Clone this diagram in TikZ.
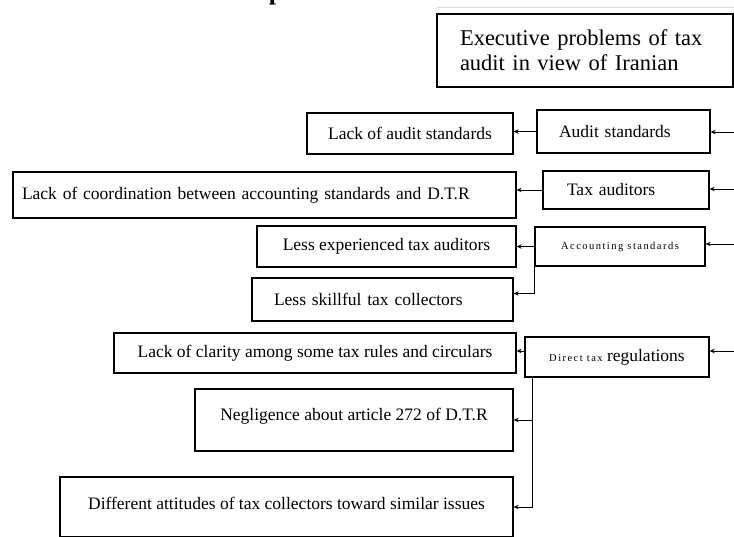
\documentclass[tikz,border=0pt]{standalone}
\usepackage{fontspec}
\setmainfont{Liberation Serif}
\usetikzlibrary{arrows.meta,calc}
\tikzset{
  box/.style={draw=black, line width=1.3pt, inner sep=0pt, align=center,
    font=\fontsize{17.5}{20}\selectfont},
  lbox/.style={box, align=left},
  arr/.style={line width=0.8pt, -{Stealth[length=5pt,width=4.5pt]}}
}
\newcommand{\smalltxt}[1]{{\fontsize{10.5}{12}\selectfont\addfontfeature{LetterSpace=14}#1}}
\begin{document}
\begin{tikzpicture}[x=1pt,y=-1pt]
\useasboundingbox (0,0) rectangle (734,536);
% cut-off fragments at the top
\node[font=\bfseries\fontsize{26}{26}\selectfont, anchor=base, inner sep=0pt] (frag) at (276,-0.5) {p};
\draw[gray!30, line width=0.6pt] (437,7) -- (734,7);
% boxes
\node[lbox, minimum width=296, minimum height=73, text width=250, inner xsep=23pt,
  font=\fontsize{22.5}{25}\selectfont] (title) at (585,50.5)
  {Executive problems of tax\\audit in view of Iranian};
\node[box, minimum width=206, minimum height=41] (lackaudit) at (410,133.5) {Lack of audit standards};
\node[lbox, minimum width=173, minimum height=43, text width=129, inner xsep=22pt] (auditstd) at (623.5,131.5) {Audit standards};
\node[lbox, minimum width=503, minimum height=46, text width=485, inner xsep=9pt] (lackcoord) at (264.5,195) {Lack of coordination between accounting standards and D.T.R};
\node[lbox, minimum width=166, minimum height=38, text width=118, inner xsep=24pt] (taxaud) at (626,190) {Tax auditors};
\node[box, minimum width=170, minimum height=39] (accstd) at (620,246.5) {\smalltxt{Accounting standards}};
\node[box, minimum width=259, minimum height=41] (lessexp) at (386.5,246.5) {Less experienced tax auditors};
\node[lbox, minimum width=261, minimum height=43, text width=217, inner xsep=22pt] (lessskill) at (382.5,299.5) {Less skillful tax collectors};
\node[box, minimum width=184, minimum height=40] (dirtax) at (617,357) {\smalltxt{Direct tax} regulations};
\node[box, minimum width=402, minimum height=40] (lackclar) at (315,353) {Lack of clarity among some tax rules and circulars};
\node[box, minimum width=318, minimum height=62, text height=13pt, text depth=13pt] (negl) at (354,420) {Negligence about article 272 of D.T.R};
\node[box, minimum width=453, minimum height=60, text height=13pt, text depth=8pt] (diff) at (286.5,507) {Different attitudes of tax collectors toward similar issues};
% right-edge inputs
\coordinate (r1) at (734,132);
\coordinate (r2) at (734,189);
\coordinate (r3) at (734,244);
\coordinate (r4) at (734,351);
\draw[arr] (r1) -- (r1 -| auditstd.east);
\draw[arr] (r2) -- (r2 -| taxaud.east);
\draw[arr] (r3) -- (r3 -| accstd.east);
\draw[arr] (r4) -- (r4 -| dirtax.east);
% category to problems
\draw[arr] (auditstd.west) -- (auditstd.west -| lackaudit.east);
\draw[arr] (taxaud.west) -- (taxaud.west -| lackcoord.east);
\draw[arr] (accstd.west) -- (accstd.west -| lessexp.east);
\draw[arr] (accstd.south west) |- ([yshift=6pt]lessskill.east);
\draw[arr] (r4 -| dirtax.west) -- (r4 -| lackclar.east);
\coordinate (dt) at ($(dirtax.south west)+(8,0)$);
\draw[arr] (dt) |- (negl.east);
\draw[arr] (dt) |- (diff.east);
\end{tikzpicture}
\end{document}
